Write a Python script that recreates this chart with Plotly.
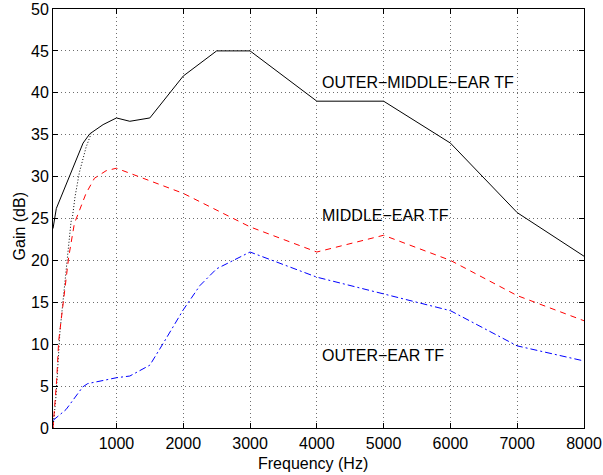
import plotly.graph_objects as go

# Outer-middle-ear transfer function (solid black)
om_f = [50, 100, 500, 600, 800, 1000, 1200, 1500, 2000, 2250, 2500, 3000, 4000, 5000, 6000, 7000, 8000]
om_g = [23.8, 26.2, 34.0, 35.1, 36.2, 37.0, 36.6, 37.0, 42.0, 43.5, 45.0, 45.0, 39.0, 39.0, 34.0, 25.7, 20.5]

# Low-frequency dotted black curve
ld_f = [50, 95, 155, 195, 230, 270, 320, 345, 380, 445, 545, 620]
ld_g = [0.0, 3.8, 11.6, 14.9, 18.0, 20.8, 24.6, 25.4, 27.6, 30.5, 33.5, 35.1]

# Middle-ear transfer function (red dashed)
me_f = [50, 70, 105, 135, 160, 195, 230, 285, 370, 545, 670, 845, 1000, 1500, 2000, 3000, 4000, 5000, 6000, 7000, 8000]
me_g = [0.0, 1.9, 5.7, 10.4, 12.2, 14.6, 17.2, 20.4, 24.4, 28.0, 29.8, 30.7, 31.0, 29.5, 28.0, 24.0, 21.0, 23.0, 20.0, 15.8, 12.8]

# Outer-ear transfer function (blue dash-dot)
oe_f = [50, 245, 495, 570, 820, 1000, 1200, 1500, 1700, 2000, 2250, 2500, 3000, 4000, 5000, 6000, 7000, 8000]
oe_g = [0.9, 2.2, 4.9, 5.3, 5.7, 6.0, 6.2, 7.5, 10.1, 14.1, 17.0, 19.0, 21.0, 18.0, 16.0, 14.0, 9.8, 8.0]

x_ticks = [1000, 2000, 3000, 4000, 5000, 6000, 7000, 8000]
y_ticks = [0, 5, 10, 15, 20, 25, 30, 35, 40, 45, 50]

labels = ["OUTER\u2212MIDDLE\u2212EAR TF", "MIDDLE\u2212EAR TF", "OUTER\u2212EAR TF"]
label_x = [4040, 4040, 4040]
label_y = [41.2, 25.3, 8.6]

FONT = "Liberation Sans, Arial, Helvetica, sans-serif"

fig = go.Figure()
fig.add_trace(go.Scatter(x=ld_f, y=ld_g, mode="lines",
                         line=dict(color="black", width=1, dash="1px,2px")))
fig.add_trace(go.Scatter(x=me_f, y=me_g, mode="lines",
                         line=dict(color="#ff0000", width=1, dash="6px,5px")))
fig.add_trace(go.Scatter(x=oe_f, y=oe_g, mode="lines",
                         line=dict(color="#0000ff", width=1, dash="7px,3px,2px,3px")))
fig.add_trace(go.Scatter(x=om_f, y=om_g, mode="lines",
                         line=dict(color="black", width=1)))

for t, xx, yy in zip(labels, label_x, label_y):
    fig.add_annotation(x=xx, y=yy, text=t, showarrow=False, xanchor="left",
                       yanchor="middle", font=dict(family=FONT, size=16, color="black"))

# axis titles placed as paper annotations
fig.add_annotation(x=0.49, y=0, xref="paper", yref="paper", yshift=-35,
                   text="Frequency (Hz)", showarrow=False, xanchor="center", yanchor="middle",
                   font=dict(family=FONT, size=16, color="black"))
fig.add_annotation(x=0, y=0.481, xref="paper", yref="paper", xshift=-34,
                   text="Gain (dB)", textangle=-90, showarrow=False, xanchor="center",
                   yanchor="middle", font=dict(family=FONT, size=16, color="black"))

axis_common = dict(
    showline=True, linecolor="black", linewidth=1, mirror="ticks",
    ticks="inside", ticklen=5, tickcolor="black", automargin=False,
    showgrid=True, gridcolor="#6e6e6e", gridwidth=1, griddash="1px,3px",
    zeroline=False, tickfont=dict(family=FONT, size=16, color="black"),
)

fig.update_xaxes(range=[50, 8000], tickvals=x_ticks, ticktext=[str(v) for v in x_ticks],
                 ticklabelstandoff=1, **axis_common)
fig.update_yaxes(range=[0, 50], tickvals=y_ticks, ticktext=[str(v) for v in y_ticks],
                 ticklabelstandoff=0, **axis_common)

fig.update_layout(
    width=603, height=475,
    margin=dict(l=53, r=19, t=9, b=47),
    paper_bgcolor="white", plot_bgcolor="white",
    showlegend=False,
    font=dict(family=FONT, color="black"),
)

fig.write_html("out.html", config={"displayModeBar": False},
               post_script="document.body.style.margin='0';document.body.style.padding='0';")
